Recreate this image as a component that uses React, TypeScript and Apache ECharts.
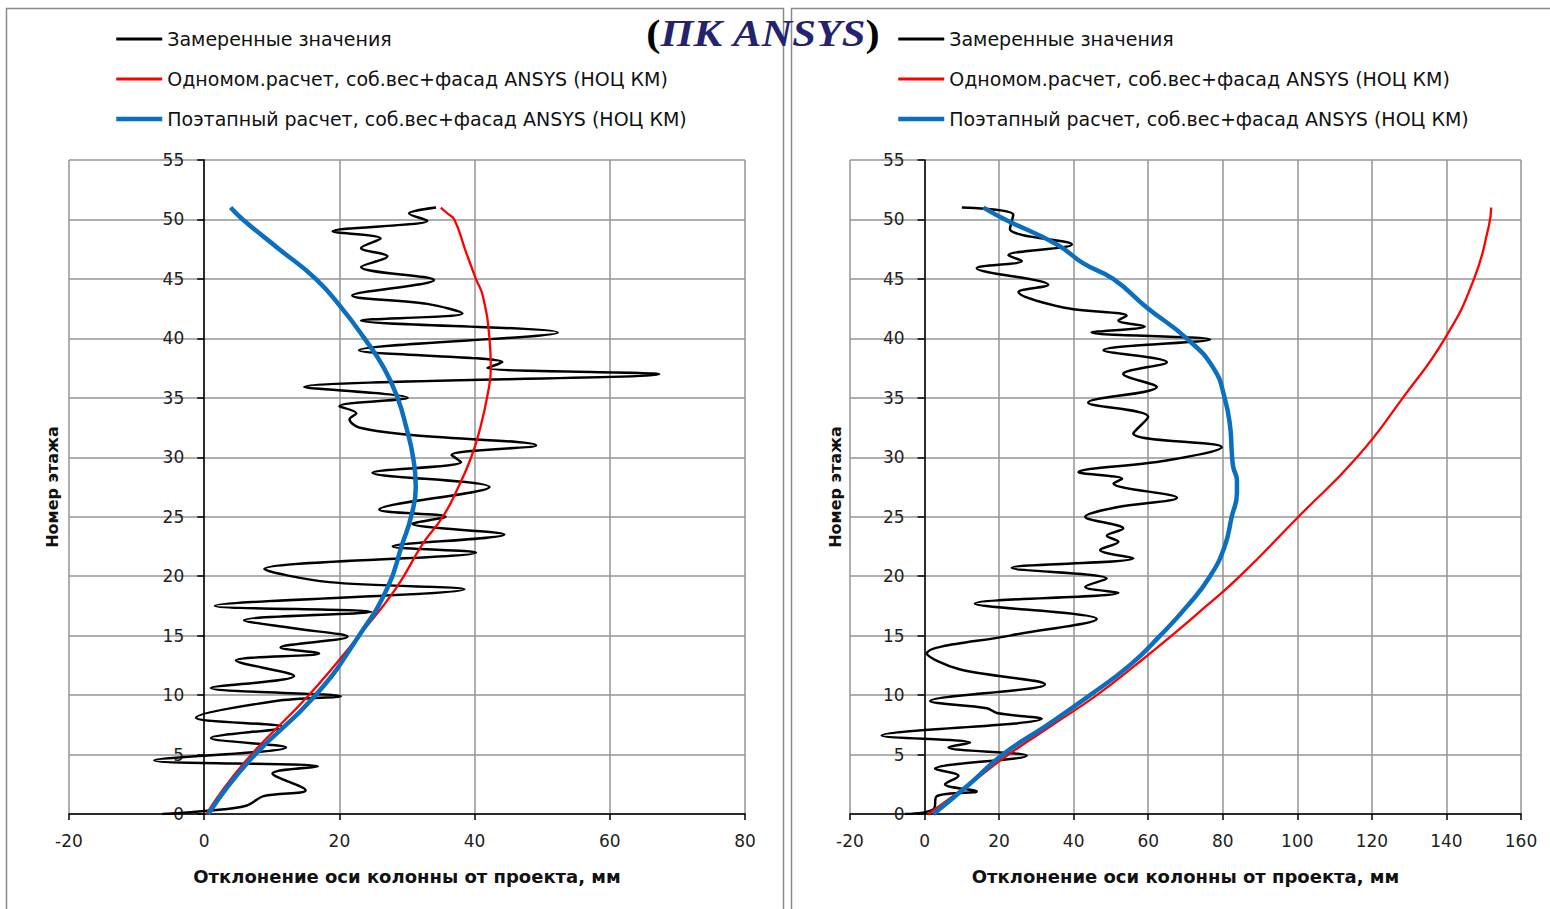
import React, { useEffect, useRef } from "react";
import * as echarts from "echarts";

// ---------- DATA ----------
const seriesNames = [
  "Замеренные значения",
  "Одномом.расчет, соб.вес+фасад ANSYS (НОЦ КМ)",
  "Поэтапный расчет, соб.вес+фасад ANSYS (НОЦ КМ)",
];

// Left chart: [deviation, floor]
const leftMeasured: number[][] = [
  [-6.2, 0], [1, 0.3], [6.2, 0.7], [8.8, 1.5], [15, 2.0], [10.1, 3.4], [16.8, 4.0], [-7.4, 4.5],
  [12.1, 5.6], [1, 6.4], [11.8, 7.3], [-1.2, 8.1], [10.6, 9.5], [20.2, 9.9], [1, 10.6], [13.3, 11.6],
  [4.7, 12.9], [17, 13.5], [11.3, 14], [21.2, 14.9], [13.5, 15.6], [5.9, 16.3], [24.7, 17], [1.6, 17.5],
  [38.5, 18.9], [18.5, 19.5], [8.9, 20.6], [40.2, 22], [27.9, 22.5], [44.4, 23.5], [30.8, 24.4],
  [35.7, 25], [25.9, 25.6], [42.2, 27.5], [24.9, 28.7], [38, 29.6], [36.6, 30.2], [49.1, 31],
  [30.3, 31.9], [22.9, 32.5], [21.5, 33.2], [22.5, 33.7], [20, 34.3], [30.1, 35], [14.8, 35.9],
  [67.3, 37], [41.9, 37.5], [44.1, 38], [22.9, 39], [52.3, 40.5], [23.2, 41.5], [38.2, 42.1],
  [33, 42.9], [21.9, 43.6], [34, 44.9], [23.2, 46], [27.1, 46.9], [23.2, 47.6], [26.1, 48.4],
  [19, 49], [33, 49.9], [30.3, 50.5], [34.3, 51],
];
const leftSingle: number[][] = [
  [0.3, 0], [6.2, 4.5], [15.5, 10], [22.9, 15], [28.4, 19], [32.3, 22.7], [35.3, 25], [37.6, 27.5],
  [39.5, 30], [40.8, 32.4], [41.9, 35.2], [42.4, 37.5], [42.2, 40], [41.2, 43.6], [40.2, 45],
  [38.7, 47.3], [37, 50], [36, 50.5], [35, 51],
];
const leftStaged: number[][] = [
  [0.6, 0], [6.7, 4.5], [16.5, 10], [22.9, 15], [27.1, 19], [29.3, 22.7], [30.6, 25], [31.3, 27.5],
  [30.9, 30], [29.9, 32.5], [28.6, 35], [26.6, 37.5], [23.7, 40], [20.4, 42.5], [16.5, 45],
  [11.1, 47.5], [5.7, 50], [3.9, 51],
];

// Right chart: [deviation, floor]
const rightMeasured: number[][] = [
  [-5.2, 0], [2.4, 0.4], [3.3, 1.5], [14, 1.9], [5.5, 2.5], [9.1, 3.2], [2.8, 3.8], [27.4, 4.9],
  [6.4, 5.6], [12.2, 6], [-11.5, 6.6], [31.4, 8], [19.4, 8.5], [16.7, 8.9], [1.5, 9.5], [32.3, 10.9],
  [9.1, 12.2], [0.6, 13.5], [22.9, 15.0], [46.2, 16.4], [13.5, 17.7], [52, 18.6], [43.1, 19.1],
  [48.9, 19.8], [23.4, 20.7], [56, 21.5], [47.1, 22.2], [52, 22.9], [48.9, 23.4], [53.3, 24],
  [43.1, 25], [51.6, 25.8], [67.7, 26.6], [50.7, 27.8], [53, 28.2], [41.3, 28.75], [64.5, 29.7],
  [79.7, 30.85], [56, 32], [60, 33.4], [43.9, 34.6], [62.3, 35.9], [53.3, 37], [65, 38], [48, 39],
  [76.6, 39.9], [44.8, 40.5], [59.1, 41], [52, 41.5], [54.2, 41.9], [37.2, 42.6], [25.2, 43.9],
  [33.2, 44.5], [14, 45.9], [26.1, 46.5], [22.5, 47], [39.5, 47.9], [22.9, 49.2], [23.8, 50.4],
  [10, 51],
];
const rightSingle: number[][] = [
  [1, 0], [12, 2.5], [22.5, 5], [34.4, 7.5], [46.2, 10], [56.5, 12.5], [66.3, 15], [75.6, 17.5],
  [84.6, 20], [100.3, 25], [116, 30], [128.3, 35], [139.6, 40], [147.4, 45], [151.4, 49.5], [152, 51],
];
const rightStaged: number[][] = [
  [2.4, 0], [12, 2.5], [21, 5], [33, 7.5], [44.4, 10], [55, 12.5], [63.2, 15], [70.5, 17.5],
  [76.6, 20], [80.5, 22.5], [82.4, 25], [83.8, 27], [83.8, 28], [82.8, 29.2], [82.4, 30.5],
  [82, 32.5], [80.5, 35], [77.5, 37.5], [70.3, 40], [59.6, 42.6], [50.6, 45], [42.6, 46.3],
  [35.5, 47.9], [21.6, 50], [15.8, 51],
];

const leftXRange = { min: -20, max: 80, interval: 20 };
const rightXRange = { min: -20, max: 160, interval: 20 };
const floorRange = { min: 0, max: 55, interval: 5 };

const xTitle = "Отклонение оси колонны от проекта, мм";
const yTitle = "Номер этажа";
const titleMain = "ПК ANSYS";

const colors = ["#000000", "#ff0000", "#0a6fbf"];
const widths = [2.5, 2.3, 4.5];

const FONT = "DejaVu Sans";

export default function App() {
  const ref = useRef<HTMLDivElement>(null);
  useEffect(() => {
    if (!ref.current) return;
    const chart = echarts.init(ref.current, undefined, { renderer: "svg" });

    const plotBoxes = [
      { l: 69, r: 745 },
      { l: 850, r: 1521 },
    ];
    const gridDefs = plotBoxes.map((b) => ({
      left: b.l,
      right: 1550 - b.r,
      top: 160,
      bottom: 909 - 814,
      containLabel: false,
      outerBoundsMode: "none",
    }));
    const xRanges = [leftXRange, rightXRange];

    const xAxes = xRanges.map((r, i) => ({
      type: "value",
      gridIndex: i,
      min: r.min,
      max: r.max,
      interval: r.interval,
      name: xTitle,
      nameLocation: "middle",
      nameGap: 53,
      nameTextStyle: { fontFamily: FONT, fontSize: 18, fontWeight: "bold", color: "#111" },
      axisLine: { onZero: true, lineStyle: { color: "#000", width: 1.5 } },
      axisTick: { show: true, length: 6, inside: false, lineStyle: { color: "#000", width: 1.5 } },
      axisLabel: { fontFamily: FONT, fontSize: 17, color: "#222", margin: 18 },
      splitLine: { show: true, lineStyle: { color: "#959595", width: 1.5 } },
    }));
    // y axis crosses the x axis at 0: shift it inward from the grid edge
    const yAxes = [0, 1].map((i) => {
      const r = xRanges[i];
      const b = plotBoxes[i];
      const zeroShift = ((0 - r.min) / (r.max - r.min)) * (b.r - b.l);
      return {
        type: "value",
        gridIndex: i,
        min: floorRange.min,
        max: floorRange.max,
        interval: floorRange.interval,
        offset: -zeroShift,
        axisLine: { onZero: false, lineStyle: { color: "#000", width: 1.5 } },
        axisTick: { show: true, length: 7, lineStyle: { color: "#000", width: 1.5 } },
        axisLabel: { fontFamily: FONT, fontSize: 17, color: "#222", margin: 20 },
        splitLine: { show: true, lineStyle: { color: "#959595", width: 1.5 } },
      };
    });

    const datasets = [
      [leftMeasured, leftSingle, leftStaged],
      [rightMeasured, rightSingle, rightStaged],
    ];
    const series: any[] = [];
    datasets.forEach((group, gi) => {
      group.forEach((d, si) => {
        series.push({
          type: "line",
          name: seriesNames[si],
          xAxisIndex: gi,
          yAxisIndex: gi,
          data: d,
          symbol: "none",
          smooth: si === 0 ? 0.35 : 0.5,
          lineStyle: { color: colors[si], width: widths[si] },
          itemStyle: { color: colors[si] },
          z: 2 + si,
        });
      });
    });

    const legendData = seriesNames.map((n, i) => ({
      name: n,
      lineStyle: { width: i === 2 ? 4.5 : 3, color: colors[i] },
      itemStyle: { color: "rgba(0,0,0,0)", opacity: 0, borderWidth: 0 },
    }));
    const legendBase = {
      orient: "vertical",
      top: 28,
      padding: 0,
      itemWidth: 46,
      itemHeight: 12,
      itemGap: 18,
      selectedMode: false,
      textStyle: { fontFamily: FONT, fontSize: 19, color: "#111", lineHeight: 22 },
      data: legendData,
    };

    chart.setOption({
      animation: false,
      backgroundColor: "#ffffff",
      grid: gridDefs,
      xAxis: xAxes,
      yAxis: yAxes,
      legend: [
        { ...legendBase, left: 114 },
        { ...legendBase, left: 896 },
      ],
      series,
      graphic: [
        {
          type: "rect",
          silent: true,
          z: -10,
          shape: { x: 6.5, y: 8.5, width: 777, height: 920 },
          style: { fill: "none", stroke: "#8a8a8a", lineWidth: 1.5 },
        },
        {
          type: "rect",
          silent: true,
          z: -10,
          shape: { x: 791.5, y: 8.5, width: 800, height: 920 },
          style: { fill: "none", stroke: "#8a8a8a", lineWidth: 1.5 },
        },
        {
          type: "text",
          silent: true,
          x: 52,
          y: 487,
          rotation: Math.PI / 2,
          style: { text: yTitle, align: "center", verticalAlign: "middle", fontFamily: FONT, fontSize: 16, fontWeight: "bold", fill: "#111" },
        },
        {
          type: "text",
          silent: true,
          x: 835,
          y: 487,
          rotation: Math.PI / 2,
          style: { text: yTitle, align: "center", verticalAlign: "middle", fontFamily: FONT, fontSize: 16, fontWeight: "bold", fill: "#111" },
        },
        {
          type: "text",
          silent: true,
          z: 100,
          x: 763,
          y: 33,
          scaleX: 1.15,
          style: {
            text: "{p|(}{t|" + titleMain + "}{p|)}",
            align: "center",
            verticalAlign: "middle",
            rich: {
              p: { fontFamily: "Liberation Serif", fontSize: 37, fontWeight: "bold", fill: "#000" },
              t: { fontFamily: "Liberation Serif", fontSize: 37, fontWeight: "bold", fontStyle: "italic", fill: "#23236e" },
            },
          },
        },
      ],
    });
    return () => chart.dispose();
  }, []);
  return <div ref={ref} style={{ position: "fixed", left: 0, top: 0, width: 1550, height: 909 }} />;
}
